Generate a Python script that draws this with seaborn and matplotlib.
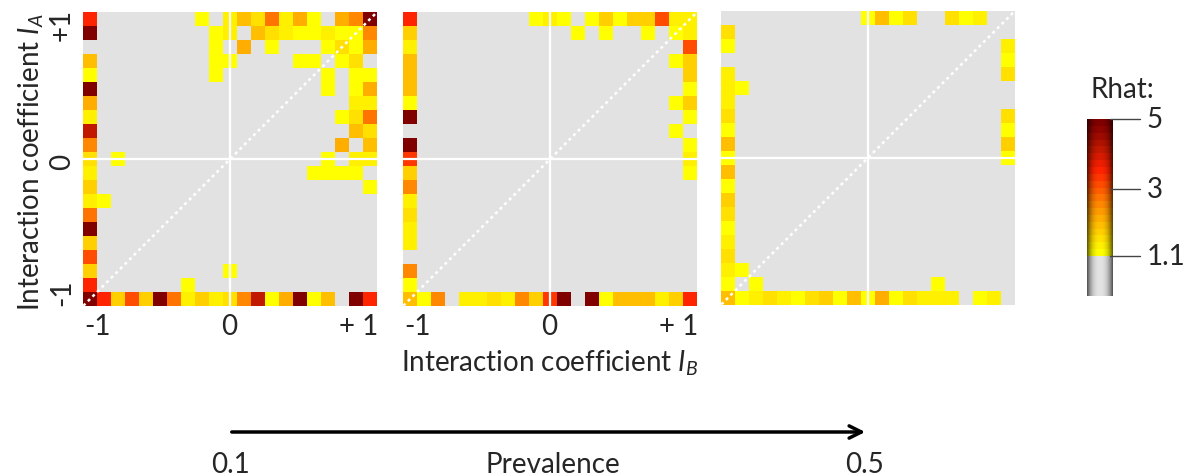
import numpy as np
import matplotlib
matplotlib.use("Agg")
import matplotlib.pyplot as plt
import seaborn as sns
from matplotlib.colors import LinearSegmentedColormap, ListedColormap, Normalize

# ---------------- data: Rhat per (I_A row: +1 -> -1, I_B col: -1 -> +1) ----------------
o = 1.0  # converged (Rhat <= 1.1)

rhat_prev_01 = [
    [3.6, o, o, o, o, o, o, o, 1.2, o, 1.3, 1.9, 1.5, 2.85, 1.35, 2.25, 1.2, o, 2.2, 2.5, 4.9],
    [4.9, o, o, o, o, o, o, o, o, 1.2, 1.35, o, 1.9, 1.55, 1.4, 1.2, 1.2, 1.35, 1.2, 1.2, 2.5],
    [o, o, o, o, o, o, o, o, o, 1.2, o, 2.1, o, 1.2, o, o, o, 1.2, 1.55, 1.2, 2.25],
    [1.9, o, o, o, o, o, o, o, o, 1.2, 1.2, o, o, o, o, 1.2, 1.2, o, 1.2, 1.5, o],
    [1.2, o, o, o, o, o, o, o, o, 1.2, o, o, o, o, o, o, o, 1.2, o, 1.2, 1.2],
    [4.9, o, o, o, o, o, o, o, o, o, o, o, o, o, o, o, o, 1.2, o, 1.2, 2.25],
    [2.25, o, o, o, o, o, o, o, o, o, o, o, o, o, o, o, o, o, o, 1.35, 1.35],
    [1.3, o, o, o, o, o, o, o, o, o, o, o, o, o, o, o, o, o, 1.2, 1.6, 2.85],
    [4.2, o, o, o, o, o, o, o, o, o, o, o, o, o, o, o, o, o, o, 2.0, 1.5],
    [2.5, o, o, o, o, o, o, o, o, o, o, o, o, o, o, o, o, o, 2.1, o, 1.9],
    [1.6, o, 1.2, o, o, o, o, o, o, o, o, o, o, o, o, o, o, 1.2, o, 1.35, 1.35],
    [1.35, o, o, o, o, o, o, o, o, o, o, o, o, o, o, o, 1.2, 1.2, 1.2, 1.2, o],
    [1.7, o, o, o, o, o, o, o, o, o, o, o, o, o, o, o, o, o, o, o, 1.2],
    [1.3, 1.2, o, o, o, o, o, o, o, o, o, o, o, o, o, o, o, o, o, o, o],
    [2.85, o, o, o, o, o, o, o, o, o, o, o, o, o, o, o, o, o, o, o, o],
    [4.9, o, o, o, o, o, o, o, o, o, o, o, o, o, o, o, o, o, o, o, o],
    [1.7, o, o, o, o, o, o, o, o, o, o, o, o, o, o, o, o, o, o, o, o],
    [3.1, o, o, o, o, o, o, o, o, o, o, o, o, o, o, o, o, o, o, o, o],
    [1.7, o, o, o, o, o, o, o, o, o, 1.2, o, o, o, o, o, o, o, o, o, o],
    [3.6, o, o, o, o, o, o, 1.2, o, o, o, o, o, o, o, o, o, o, o, o, o],
    [4.9, 3.6, 1.7, 3.1, 1.7, 4.9, 2.85, 1.3, 1.7, 1.35, 1.5, 2.5, 4.2, 1.2, 2.25, 4.9, 1.2, 1.9, o, 4.9, 3.6],
]

rhat_prev_mid = [
    [3.6, o, o, o, o, o, o, o, o, 1.2, 1.35, 1.2, o, 1.2, 1.7, 1.2, 1.7, 1.7, 3.1, 1.3, 1.35],
    [1.7, o, o, o, o, o, o, o, o, o, o, o, 1.2, o, 1.2, o, o, 1.2, o, 1.2, 1.35],
    [1.3, o, o, o, o, o, o, o, o, o, o, o, o, o, o, o, o, o, o, o, 3.1],
    [2.0, o, o, o, o, o, o, o, o, o, o, o, o, o, o, o, o, o, o, 1.2, 1.7],
    [2.0, o, o, o, o, o, o, o, o, o, o, o, o, o, o, o, o, o, o, o, 1.7],
    [2.0, o, o, o, o, o, o, o, o, o, o, o, o, o, o, o, o, o, o, o, 1.2],
    [1.2, o, o, o, o, o, o, o, o, o, o, o, o, o, o, o, o, o, o, 1.2, 1.7],
    [4.9, o, o, o, o, o, o, o, o, o, o, o, o, o, o, o, o, o, o, o, 1.2],
    [o, o, o, o, o, o, o, o, o, o, o, o, o, o, o, o, o, o, o, 1.2, o],
    [4.9, o, o, o, o, o, o, o, o, o, o, o, o, o, o, o, o, o, o, o, 1.2],
    [3.4, o, o, o, o, o, o, o, o, o, o, o, o, o, o, o, o, o, o, o, 1.35],
    [1.7, o, o, o, o, o, o, o, o, o, o, o, o, o, o, o, o, o, o, o, 1.2],
    [2.5, o, o, o, o, o, o, o, o, o, o, o, o, o, o, o, o, o, o, o, o],
    [1.3, o, o, o, o, o, o, o, o, o, o, o, o, o, o, o, o, o, o, o, o],
    [1.5, o, o, o, o, o, o, o, o, o, o, o, o, o, o, o, o, o, o, o, o],
    [1.3, o, o, o, o, o, o, o, o, o, o, o, o, o, o, o, o, o, o, o, o],
    [1.3, o, o, o, o, o, o, o, o, o, o, o, o, o, o, o, o, o, o, o, o],
    [o, o, o, o, o, o, o, o, o, o, o, o, o, o, o, o, o, o, o, o, o],
    [2.5, o, o, o, o, o, o, o, o, o, o, o, o, o, o, o, o, o, o, o, o],
    [1.2, o, o, o, o, o, o, o, o, o, o, o, o, o, o, o, o, o, o, o, o],
    [1.9, 1.2, 2.5, o, 1.3, 1.3, 1.5, 1.3, 2.5, 1.7, 3.4, 4.9, o, 4.9, 1.2, 1.9, 2.0, 2.0, 1.3, 1.7, 3.6],
]

rhat_prev_05 = [
    [o, o, o, o, o, o, o, o, o, o, 1.2, 1.9, 1.2, 1.6, o, o, 1.5, 1.2, 1.3, o, o],
    [1.5, o, o, o, o, o, o, o, o, o, o, o, o, o, o, o, o, o, o, o, o],
    [1.2, o, o, o, o, o, o, o, o, o, o, o, o, o, o, o, o, o, o, o, 1.3],
    [o, o, o, o, o, o, o, o, o, o, o, o, o, o, o, o, o, o, o, o, 1.2],
    [1.3, o, o, o, o, o, o, o, o, o, o, o, o, o, o, o, o, o, o, o, 1.6],
    [1.3, 1.2, o, o, o, o, o, o, o, o, o, o, o, o, o, o, o, o, o, o, o],
    [1.3, o, o, o, o, o, o, o, o, o, o, o, o, o, o, o, o, o, o, o, o],
    [1.5, o, o, o, o, o, o, o, o, o, o, o, o, o, o, o, o, o, o, o, 1.5],
    [1.2, o, o, o, o, o, o, o, o, o, o, o, o, o, o, o, o, o, o, o, 1.2],
    [2.0, o, o, o, o, o, o, o, o, o, o, o, o, o, o, o, o, o, o, o, 1.7],
    [1.2, o, o, o, o, o, o, o, o, o, o, o, o, o, o, o, o, o, o, o, 1.2],
    [2.0, o, o, o, o, o, o, o, o, o, o, o, o, o, o, o, o, o, o, o, o],
    [1.2, o, o, o, o, o, o, o, o, o, o, o, o, o, o, o, o, o, o, o, o],
    [1.7, o, o, o, o, o, o, o, o, o, o, o, o, o, o, o, o, o, o, o, o],
    [1.5, o, o, o, o, o, o, o, o, o, o, o, o, o, o, o, o, o, o, o, o],
    [1.2, o, o, o, o, o, o, o, o, o, o, o, o, o, o, o, o, o, o, o, o],
    [1.3, o, o, o, o, o, o, o, o, o, o, o, o, o, o, o, o, o, o, o, o],
    [1.5, o, o, o, o, o, o, o, o, o, o, o, o, o, o, o, o, o, o, o, o],
    [1.3, 1.2, o, o, o, o, o, o, o, o, o, o, o, o, o, o, o, o, o, o, o],
    [1.2, o, 1.2, o, o, o, o, o, o, o, o, o, o, o, o, 1.2, o, o, o, o, o],
    [1.9, 1.2, 1.3, 1.6, 1.3, 1.2, 1.5, 1.7, 1.2, 2.0, 1.2, 2.1, 1.2, 1.5, 1.3, 1.3, 1.3, o, 1.2, 1.3, o],
]

x_tick_labels = ["-1", "0", "+ 1"]
y_tick_labels = ["+1", "0", "-1"]
cbar_ticks = [5, 3, 1.1]
cbar_tick_labels = ["5", "3", "1.1"]
prevalence_labels = ["0.1", "Prevalence", "0.5"]

RHAT_MIN, RHAT_MAX = 1.1, 5.0

# ---------------- style ----------------
sns.set_theme(style="white")
plt.rcParams["font.family"] = ["Lato", "DejaVu Sans"]
plt.rcParams["mathtext.fontset"] = "custom"
plt.rcParams["mathtext.rm"] = "Lato"
plt.rcParams["mathtext.it"] = "Lato:italic"
FS = 20
BG = "#e2e2e2"

anchors = [(1.1, "#ffff00"), (1.5, "#ffe000"), (1.7, "#ffd000"), (2.1, "#ffb000"),
           (2.5, "#ff8c00"), (3.0, "#ff5a00"), (3.6, "#ff2000"), (4.2, "#c01800"),
           (5.0, "#800000")]
base = LinearSegmentedColormap.from_list(
    "rhat", [((v - RHAT_MIN) / (RHAT_MAX - RHAT_MIN), c) for v, c in anchors])
cmap = ListedColormap(base(np.linspace(0, 1, 20)))
norm = Normalize(RHAT_MIN, RHAT_MAX)

fig = plt.figure(figsize=(12, 4.77), dpi=100)
W, H = 1200, 477

def fx(px):
    return px / W

def fy(py):
    return 1 - py / H

panels = [(rhat_prev_01, 83.3, 13.3, True, True),
          (rhat_prev_mid, 403.3, 13.3, True, False),
          (rhat_prev_05, 721.3, 12.0, False, False)]
size = 293.5
for data, left, top, show_x, show_y in panels:
    arr = np.array(data, dtype=float)
    ax = fig.add_axes([fx(left), fy(top + size), size / W, size / H])
    ax.set_facecolor(BG)
    sns.heatmap(arr, ax=ax, cmap=cmap, vmin=RHAT_MIN, vmax=RHAT_MAX,
                mask=arr <= RHAT_MIN, cbar=False, xticklabels=False,
                yticklabels=False, linewidths=0)
    n = arr.shape[0]
    mid = n / 2
    ax.axhline(mid, color="white", lw=1.6)
    ax.axvline(mid, color="white", lw=1.6)
    ax.plot([0, n], [n, 0], color="white", lw=1.8, ls=(0, (1.2, 1.4)))
    for s in ax.spines.values():
        s.set_visible(False)
    ax.tick_params(length=0)
    if show_x:
        ax.set_xticks([1.05, mid - 0.05, n - 1.3])
        ax.set_xticklabels(x_tick_labels, fontsize=FS)
        ax.tick_params(axis="x", pad=5)
    else:
        ax.set_xticks([])
    if show_y:
        ax.set_yticks([0.85, mid + 0.1, n - 1.0])
        ax.set_yticklabels(y_tick_labels, fontsize=FS, rotation=90, va="center")
        ax.tick_params(axis="y", pad=6)
    else:
        ax.set_yticks([])

# axis titles
fig.text(fx(31), fy(162), "Interaction coefficient $I_A$", rotation=90,
         ha="center", va="center", fontsize=FS)
fig.text(fx(550), fy(363), "Interaction coefficient $I_B$",
         ha="center", va="center", fontsize=FS)

# ---------------- colour bar ----------------
cb_left, cb_w = 1087, 26
y_top_px, y_11_px = 120, 257
px_per_unit = (y_11_px - y_top_px) / (RHAT_MAX - RHAT_MIN)
y_low = RHAT_MIN - (297 - y_11_px) / px_per_unit
cax = fig.add_axes([fx(cb_left), fy(297), cb_w / W, (297 - y_top_px) / H])
grad = np.linspace(RHAT_MIN, RHAT_MAX, 200).reshape(-1, 1)
cax.imshow(cmap(norm(grad)), extent=[0, 1, RHAT_MIN, RHAT_MAX], origin="lower",
           aspect="auto", interpolation="nearest")
cax.imshow(np.array([[[0.89, 0.89, 0.89, 1.0]]]), extent=[0, 1, y_low, RHAT_MIN],
           origin="lower", aspect="auto")
xs = np.linspace(0, 1, 60)
shade = np.zeros((1, 60, 4))
shade[0, :, 3] = 0.65 * np.abs(2 * xs - 1) ** 2.5
cax.imshow(shade, extent=[0, 1, y_low, RHAT_MAX], origin="lower", aspect="auto")
cax.set_xlim(0, 1)
cax.set_ylim(y_low, RHAT_MAX)
cax.axis("off")
for v, lab in zip(cbar_ticks, cbar_tick_labels):
    cax.plot([0.9, 2.05], [v, v], color="#444444", lw=1.0, clip_on=False)
    cax.text(2.3, v, lab, ha="left", va="center", fontsize=FS)
fig.text(fx(1122), fy(90), "Rhat:", ha="center", va="center", fontsize=FS)

# ---------------- prevalence arrow ----------------
fig.add_artist(matplotlib.patches.FancyArrowPatch(
    (fx(229), fy(433)), (fx(868), fy(433)), transform=fig.transFigure,
    arrowstyle="->", mutation_scale=22, lw=2.5, color="black"))
for xp, lab in zip([230, 553, 865], prevalence_labels):
    fig.text(fx(xp), fy(465), lab, ha="center", va="center", fontsize=FS)

fig.savefig("out.png", dpi=100)
